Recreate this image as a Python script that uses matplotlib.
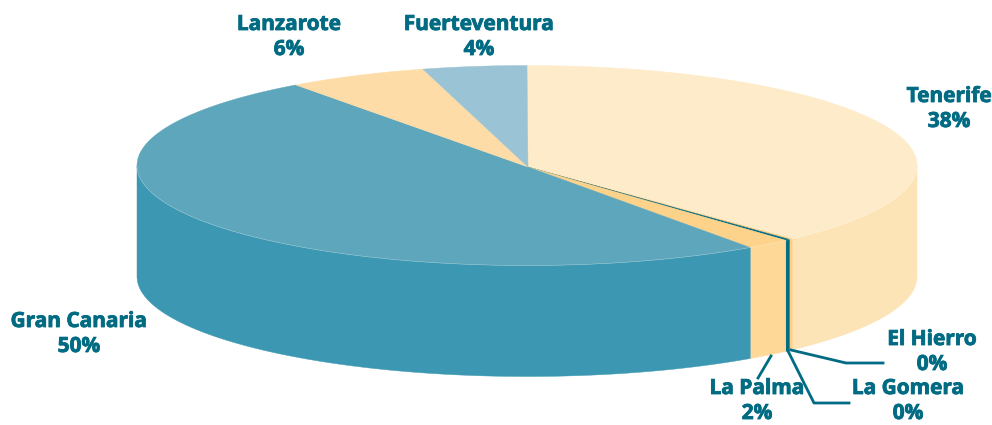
# coding:utf-8
from matplotlib import pyplot as plt
from matplotlib.patches import Polygon
import matplotlib.patheffects as pe
import numpy as np

plt.rcParams['font.family'] = ['Open Sans', 'DejaVu Sans']

# clockwise from 12 o'clock
islands = ['Tenerife', 'El Hierro', 'La Gomera', 'La Palma', 'Gran Canaria', 'Lanzarote', 'Fuerteventura']
shares = [38.1, 0.15, 0.2, 1.85, 49.6, 5.8, 4.3]
labels = ['38%', '0%', '0%', '2%', '50%', '6%', '4%']
top_colors = ['#feebc9', '#fdcf85', '#006b82', '#fdd38c', '#5ea6bb', '#fddca8', '#9ac4d5']
side_colors = ['#fde4b6', '#fdcf85', '#006b82', '#fdd896', '#3c98b2', '#fddca8', '#9ac4d5']

text_color = '#006b82'

# pie geometry in pixels
cx, cy = 527, 165.5
rx, ry = 390, 100
depth = 111
apex_y = 167


def edge(t):
    return cx + rx * np.cos(t), cy - ry * np.sin(t)


fig = plt.figure(figsize=(9.92, 4.25), dpi=100)
ax = fig.add_axes([0, 0, 1, 1])
ax.set_xlim(0, 992)
ax.set_ylim(425, 0)
ax.axis('off')

bounds = np.pi / 2 - np.cumsum([0] + shares) / 100 * 2 * np.pi

# side walls, only the front half of the ellipse shows
for i in range(len(shares)):
    a = min(bounds[i], 0)
    b = max(bounds[i + 1], -np.pi)
    if a <= b:
        continue
    t = np.linspace(a, b, 120)
    x, y = edge(t)
    pts = np.r_[np.c_[x, y], np.c_[x[::-1], y[::-1] + depth]]
    ax.add_patch(Polygon(pts, closed=True, fc=side_colors[i], ec=side_colors[i], lw=0.3, zorder=2))

# top face
for i in range(len(shares)):
    t = np.linspace(bounds[i], bounds[i + 1], 200)
    x, y = edge(t)
    pts = np.r_[[[cx + 1, apex_y]], np.c_[x, y]]
    ax.add_patch(Polygon(pts, closed=True, fc=top_colors[i], ec=top_colors[i], lw=0.3, zorder=3))

# faint light rim round the front of the top face
t = np.linspace(0, -np.pi, 300)
x, y = edge(t)
ax.plot(x, y, color='white', lw=0.4, alpha=0.35, zorder=4)

# leader lines
ax.plot([771, 758], [356, 378], color=text_color, lw=2, zorder=5)
ax.plot([788, 814, 849], [351, 403, 403], color=text_color, lw=2, zorder=5)
ax.plot([791, 846, 883], [350, 363, 363], color=text_color, lw=2, zorder=5)

# labels, name and percentage as two texts, baselines in pixels
label_pos = [(949, 102), (932, 345), (908, 394), (757, 394), (79, 327), (289, 30), (479, 30)]
for name, pct, (lx, ly) in zip(islands, labels, label_pos):
    for s, yy in ((name, ly), (pct, ly + 25)):
        txt = ax.text(lx, yy, s, color=text_color, fontsize=15, fontweight='bold',
                      ha='center', va='baseline', zorder=6)
        txt.set_path_effects([pe.withStroke(linewidth=0.6, foreground=text_color)])

plt.savefig('out.png', dpi=100)
